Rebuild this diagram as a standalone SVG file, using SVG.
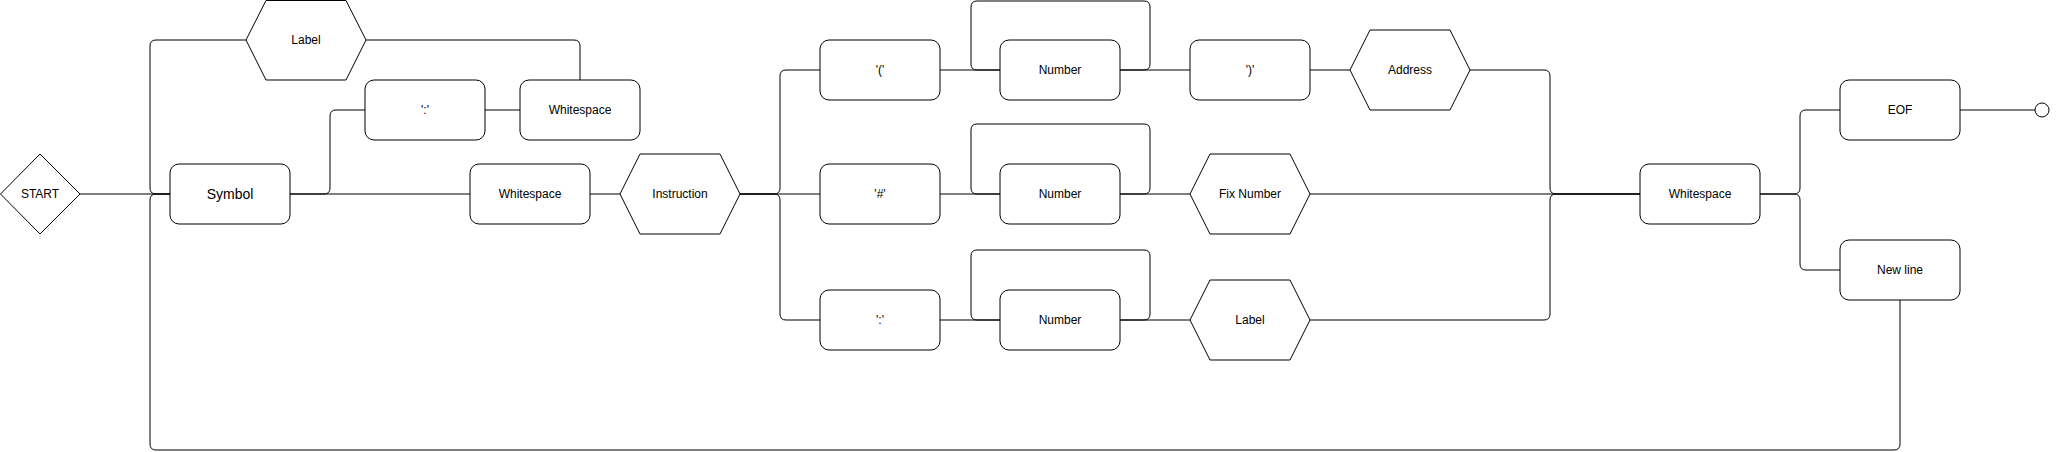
<svg xmlns="http://www.w3.org/2000/svg" width="2059" height="452" viewBox="0 0 2059 452">
<style>
.n{fill:#fff;stroke:#000;stroke-width:1}
.e{fill:none;stroke:#000;stroke-width:1}
text{font-family:"Liberation Sans",Arial,sans-serif;font-size:12px;fill:#000;text-anchor:middle;dominant-baseline:central}
.big{font-size:14px}
</style>
<rect width="2059" height="452" fill="#fff"/>
<g id="connectors">
<path class="e" d="M80,194 H170"/>
<path class="e" d="M246,40 H156 Q150,40 150,46 V188 Q150,194 156,194 H170"/>
<path class="e" d="M1900,300 V444 Q1900,450 1894,450 H156 Q150,450 150,444 V200 Q150,194 156,194 H170"/>
<path class="e" d="M290,194 H324 Q330,194 330,188 V116 Q330,110 336,110 H365"/>
<path class="e" d="M366,40 H574 Q580,40 580,46 V80"/>
<path class="e" d="M485,110 H520"/>
<path class="e" d="M290,194 H470"/>
<path class="e" d="M590,194 H620"/>
<path class="e" d="M740,194 H774 Q780,194 780,188 V76 Q780,70 786,70 H820"/>
<path class="e" d="M740,194 H820"/>
<path class="e" d="M740,194 H774 Q780,194 780,200 V314 Q780,320 786,320 H820"/>
<path class="e" d="M940,70 H1000"/>
<path class="e" d="M1120,70 H1144 Q1150,70 1150,64 V7 Q1150,1 1144,1 H977 Q971,1 971,7 V64 Q971,70 977,70 H1000"/>
<path class="e" d="M1120,70 H1190"/>
<path class="e" d="M1310,70 H1350"/>
<path class="e" d="M1470,70 H1544 Q1550,70 1550,76 V188 Q1550,194 1556,194 H1640"/>
<path class="e" d="M940,194 H1000"/>
<path class="e" d="M1120,194 H1144 Q1150,194 1150,188 V130 Q1150,124 1144,124 H977 Q971,124 971,130 V188 Q971,194 977,194 H1000"/>
<path class="e" d="M1120,194 H1190"/>
<path class="e" d="M1310,194 H1640"/>
<path class="e" d="M940,320 H1000"/>
<path class="e" d="M1120,320 H1144 Q1150,320 1150,314 V256 Q1150,250 1144,250 H977 Q971,250 971,256 V314 Q971,320 977,320 H1000"/>
<path class="e" d="M1120,320 H1190"/>
<path class="e" d="M1310,320 H1544 Q1550,320 1550,314 V200 Q1550,194 1556,194 H1640"/>
<path class="e" d="M1760,194 H1794 Q1800,194 1800,188 V116 Q1800,110 1806,110 H1840"/>
<path class="e" d="M1760,194 H1794 Q1800,194 1800,200 V264 Q1800,270 1806,270 H1840"/>
<path class="e" d="M1960,110 H2035"/>
<circle class="n" cx="2042" cy="110" r="7"/>
</g>
<g id="start"><polygon class="n" points="40,154 80,194 40,234 0.5,194"/><text x="40" y="194">START</text></g>
<g id="symbol"><rect class="n" x="170" y="164" width="120" height="60" rx="9"/><text class="big" x="230" y="194">Symbol</text></g>
<g id="label1"><polygon class="n" points="246,40 266,0.5 346,0.5 366,40 346,80 266,80"/><text x="306" y="40">Label</text></g>
<g id="colon1"><rect class="n" x="365" y="80" width="120" height="60" rx="9"/><text x="425" y="110">':'</text></g>
<g id="ws1"><rect class="n" x="520" y="80" width="120" height="60" rx="9"/><text x="580" y="110">Whitespace</text></g>
<g id="ws2"><rect class="n" x="470" y="164" width="120" height="60" rx="9"/><text x="530" y="194">Whitespace</text></g>
<g id="instruction"><polygon class="n" points="620,194 640,154 720,154 740,194 720,234 640,234"/><text x="680" y="194">Instruction</text></g>
<g id="lparen"><rect class="n" x="820" y="40" width="120" height="60" rx="9"/><text x="880" y="70">'('</text></g>
<g id="hash"><rect class="n" x="820" y="164" width="120" height="60" rx="9"/><text x="880" y="194">'#'</text></g>
<g id="colon2"><rect class="n" x="820" y="290" width="120" height="60" rx="9"/><text x="880" y="320">':'</text></g>
<g id="num1"><rect class="n" x="1000" y="40" width="120" height="60" rx="9"/><text x="1060" y="70">Number</text></g>
<g id="num2"><rect class="n" x="1000" y="164" width="120" height="60" rx="9"/><text x="1060" y="194">Number</text></g>
<g id="num3"><rect class="n" x="1000" y="290" width="120" height="60" rx="9"/><text x="1060" y="320">Number</text></g>
<g id="rparen"><rect class="n" x="1190" y="40" width="120" height="60" rx="9"/><text x="1250" y="70">')'</text></g>
<g id="address"><polygon class="n" points="1350,70 1370,30 1450,30 1470,70 1450,110 1370,110"/><text x="1410" y="70">Address</text></g>
<g id="fixnumber"><polygon class="n" points="1190,194 1210,154 1290,154 1310,194 1290,234 1210,234"/><text x="1250" y="194">Fix Number</text></g>
<g id="label2"><polygon class="n" points="1190,320 1210,280 1290,280 1310,320 1290,360 1210,360"/><text x="1250" y="320">Label</text></g>
<g id="ws3"><rect class="n" x="1640" y="164" width="120" height="60" rx="9"/><text x="1700" y="194">Whitespace</text></g>
<g id="eof"><rect class="n" x="1840" y="80" width="120" height="60" rx="9"/><text x="1900" y="110">EOF</text></g>
<g id="newline"><rect class="n" x="1840" y="240" width="120" height="60" rx="9"/><text x="1900" y="270">New line</text></g>
</svg>
